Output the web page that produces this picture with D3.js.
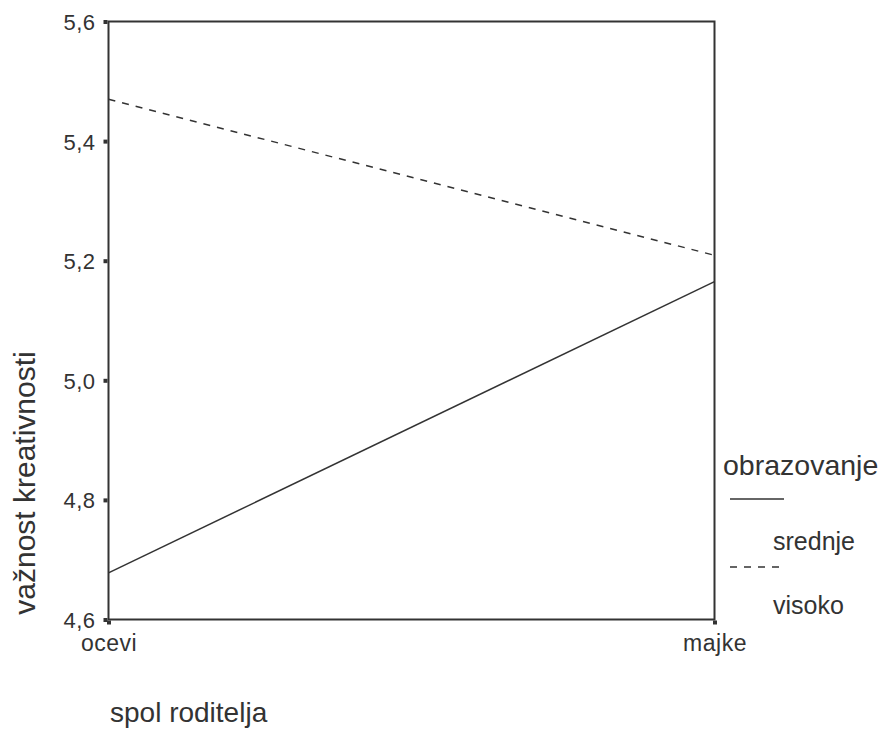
<!DOCTYPE html>
<html><head><meta charset="utf-8">
<script src="https://cdn.jsdelivr.net/npm/d3@7"></script>
<style>body{margin:0;background:#fff}svg{display:block}text{font-family:"Liberation Sans",Arial,sans-serif;fill:#333}</style>
</head><body>
<script>
const categories = ["ocevi", "majke"];
const seriesNames = ["srednje", "visoko"];
const srednje = [4.678, 5.165];
const visoko = [5.470, 5.209];
const yTicks = [4.6, 4.8, 5.0, 5.2, 5.4, 5.6];
const yTickLabels = ["4,6", "4,8", "5,0", "5,2", "5,4", "5,6"];

const W = 885, H = 729;
const svg = d3.select("body").append("svg").attr("width", W).attr("height", H);
const L = 108.5, R = 714.5, T = 21.5, B = 619.5;
const x = d3.scalePoint().domain(categories).range([L, R]);
const y = d3.scaleLinear().domain([4.6, 5.6]).range([B, T]);
const col = "#333";
const ff = '"Liberation Sans",Arial,sans-serif';

// frame
svg.append("rect").attr("x", L).attr("y", T).attr("width", R - L).attr("height", B - T)
  .attr("fill", "none").attr("stroke", col).attr("stroke-width", 2);

// y axis
const yAxis = d3.axisLeft(y).tickValues(yTicks).tickFormat((d, i) => yTickLabels[i]).tickSize(0).tickPadding(13);
const gy = svg.append("g").attr("transform", `translate(${L},0)`).call(yAxis);
gy.select(".domain").remove();
gy.selectAll("text").style("font-size", "22px").style("font-family", ff).attr("fill", col).attr("dy", "0.36em").attr("letter-spacing", "0.5px");
gy.selectAll(".tick").append("rect").attr("x", -5).attr("y", -2).attr("width", 4).attr("height", 4).attr("fill", col);

// x axis
const xAxis = d3.axisBottom(x).tickSize(0).tickPadding(0);
const gx = svg.append("g").attr("transform", `translate(0,${B})`).call(xAxis);
gx.select(".domain").remove();
gx.selectAll("text").style("font-size", "23px").style("font-family", ff).attr("fill", col).attr("y", 31).attr("dy", 0).attr("letter-spacing", "0.5px");
gx.selectAll(".tick").append("rect").attr("x", -2).attr("y", 1).attr("width", 4).attr("height", 4).attr("fill", col);

// lines
const line = d3.line().x((d, i) => x(categories[i])).y(d => y(d));
svg.append("path").datum(srednje).attr("d", line).attr("fill", "none").attr("stroke", col).attr("stroke-width", 1.5);
svg.append("path").datum(visoko).attr("d", line).attr("fill", "none").attr("stroke", col).attr("stroke-width", 1.5).attr("stroke-dasharray", "7,7");

// axis titles
svg.append("text").attr("transform", "translate(35,483) rotate(-90)").attr("text-anchor", "middle")
  .style("font-size", "30px").text("važnost kreativnosti");
svg.append("text").attr("x", 110).attr("y", 722).style("font-size", "28px").text("spol roditelja");

// legend
svg.append("text").attr("x", 723).attr("y", 475).style("font-size", "28.5px").text("obrazovanje");
svg.append("line").attr("x1", 730).attr("x2", 784).attr("y1", 499).attr("y2", 499).attr("stroke", col).attr("stroke-width", 1.5);
svg.append("text").attr("x", 773).attr("y", 550).style("font-size", "25px").text(seriesNames[0]);
svg.append("line").attr("x1", 730).attr("x2", 784).attr("y1", 567).attr("y2", 567).attr("stroke", col).attr("stroke-width", 1.5).attr("stroke-dasharray", "7,7");
svg.append("text").attr("x", 773).attr("y", 614).style("font-size", "25px").text(seriesNames[1]);
</script>
</body></html>
